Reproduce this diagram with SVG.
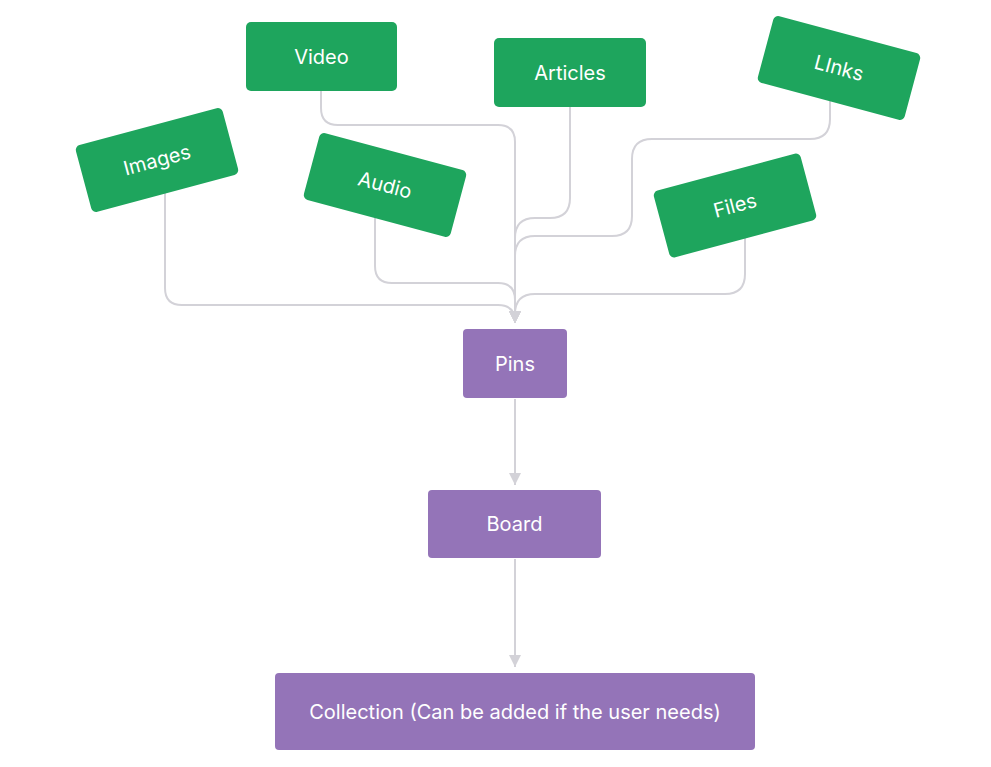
<svg xmlns="http://www.w3.org/2000/svg" width="991" height="767" viewBox="0 0 991 767">
<defs>
<style>
.g{fill:#1ea55d}
.p{fill:#9474b8}
.t{fill:#ffffff;font-family:Inter,"Liberation Sans",sans-serif;font-size:20px;text-anchor:middle}
.c{fill:none;stroke:#d3d2d8;stroke-width:2}
</style>
<marker id="ah" viewBox="0 0 12 12" refX="12" refY="6" markerWidth="12" markerHeight="12" markerUnits="userSpaceOnUse" orient="auto">
<path d="M0,0 L12,6 L0,12 z" fill="#d3d2d8"/>
</marker>
</defs>
<rect width="991" height="767" fill="#ffffff"/>
<g id="connectors">
<path class="c" d="M165,193 V288 Q165,305 182,305 H498 Q515,305 515,322 V323" marker-end="url(#ah)"/>
<path class="c" d="M375,218 V266 Q375,283 392,283 H498 Q515,283 515,300 V323" marker-end="url(#ah)"/>
<path class="c" d="M321,91 V108 Q321,125 338,125 H498 Q515,125 515,142 V323" marker-end="url(#ah)"/>
<path class="c" d="M570,107 V198 Q570,218 550,218 H535 Q515,218 515,238 V323" marker-end="url(#ah)"/>
<path class="c" d="M830,101 V119 Q830,139 810,139 H652 Q632,139 632,159 V216 Q632,236 612,236 H535 Q515,236 515,256 V323" marker-end="url(#ah)"/>
<path class="c" d="M745,238 V274 Q745,294 725,294 H535 Q515,294 515,314 V323" marker-end="url(#ah)"/>
<path class="c" d="M515,399 V485" marker-end="url(#ah)"/>
<path class="c" d="M515,559 V667" marker-end="url(#ah)"/>
</g>
<g id="video">
<rect class="g" x="246" y="22" width="151" height="69" rx="5"/>
<text class="t" x="321.5" y="63.5">Video</text>
</g>
<g id="articles">
<rect class="g" x="494" y="38" width="152" height="69" rx="5"/>
<text class="t" x="570" y="80">Articles</text>
</g>
<g id="images" transform="rotate(-15 157 160)">
<rect class="g" x="81" y="125.5" width="152" height="69" rx="5"/>
<text class="t" x="157" y="167">Images</text>
</g>
<g id="audio" transform="rotate(15 385 185)">
<rect class="g" x="309" y="150.5" width="152" height="69" rx="5"/>
<text class="t" x="385" y="192">Audio</text>
</g>
<g id="links" transform="rotate(15 839 68)">
<rect class="g" x="763" y="33.5" width="152" height="69" rx="5"/>
<text class="t" x="839" y="75">LInks</text>
</g>
<g id="files" transform="rotate(-15 735 205.5)">
<rect class="g" x="659" y="171" width="152" height="69" rx="5"/>
<text class="t" x="735" y="212.5">Files</text>
</g>
<g id="pins">
<rect class="p" x="463" y="329" width="104" height="69" rx="4"/>
<text class="t" x="515" y="371">Pins</text>
</g>
<g id="board">
<rect class="p" x="428" y="490" width="173" height="68" rx="4"/>
<text class="t" x="514.5" y="531">Board</text>
</g>
<g id="collection">
<rect class="p" x="275" y="673" width="480" height="77" rx="4"/>
<text class="t" x="515" y="718.5">Collection (Can be added if the user needs)</text>
</g>
</svg>
